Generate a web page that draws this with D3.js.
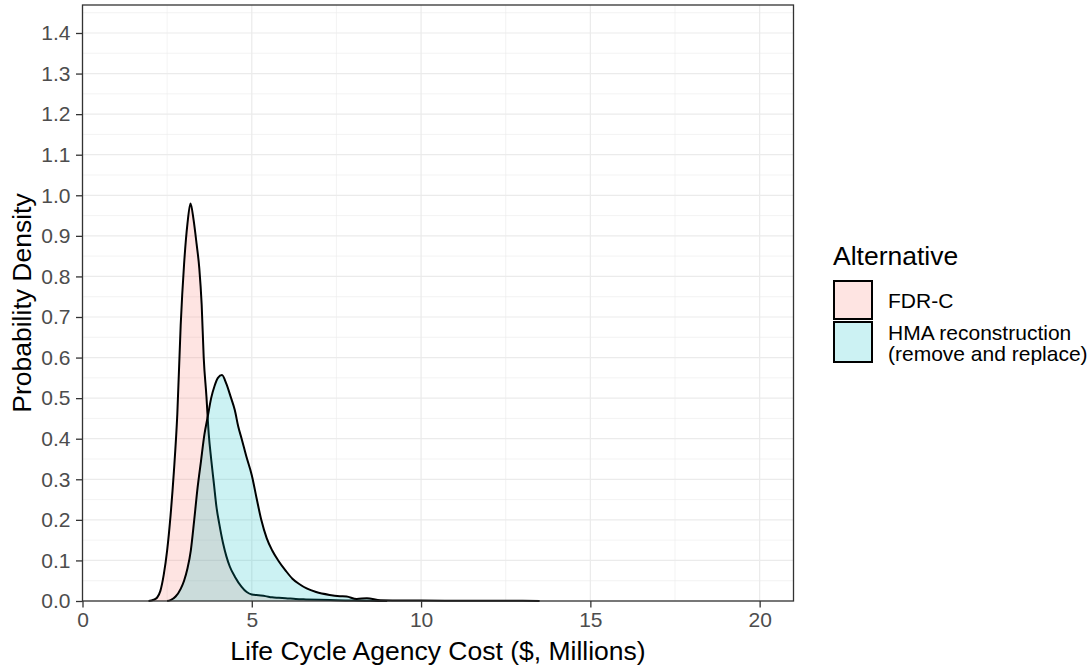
<!DOCTYPE html>
<html>
<head>
  <meta charset="utf-8">
  <script src="https://d3js.org/d3.v7.min.js"></script>
  <style>
    body { margin:0; background:#fff; }
    text { font-family: "Liberation Sans", Arial, sans-serif; }
    .tick text { fill:#4d4d4d; font-size:21px; }
    .tick line { stroke:#333; }
  </style>
</head>
<body>
  <script>
    // density estimates
    var fdrX = [1.95, 2.1, 2.2, 2.3, 2.4, 2.5, 2.6, 2.7, 2.8, 2.9, 3.0, 3.1, 3.19, 3.28, 3.37, 3.45, 3.52, 3.58, 3.66, 3.73, 3.8, 3.88, 3.96, 4.04, 4.15, 4.25, 4.35, 4.5, 4.7, 4.85, 5.0, 5.2, 5.4, 5.6, 5.8, 6.0, 6.3, 6.6, 7.0, 7.5, 8.0, 8.5, 9.0];
    var fdrY = [0, 0.003, 0.008, 0.025, 0.065, 0.125, 0.21, 0.32, 0.46, 0.68, 0.83, 0.93, 0.98, 0.94, 0.88, 0.82, 0.73, 0.6, 0.505, 0.41, 0.35, 0.29, 0.23, 0.19, 0.143, 0.11, 0.085, 0.06, 0.035, 0.022, 0.016, 0.014, 0.012, 0.009, 0.008, 0.007, 0.005, 0.004, 0.003, 0.002, 0.001, 0.0005, 0];

    var hmaX = [2.5, 2.6, 2.75, 2.9, 3.0, 3.1, 3.2, 3.3, 3.4, 3.5, 3.6, 3.7, 3.8, 3.9, 4.0, 4.12, 4.25, 4.37, 4.5, 4.6, 4.7, 4.84, 5.0, 5.15, 5.28, 5.44, 5.6, 5.78, 6.0, 6.2, 6.4, 6.62, 6.9, 7.3, 7.6, 7.8, 8.1, 8.4, 8.8, 9.5, 10, 11, 12, 13, 13.5];
    var hmaY = [0, 0.002, 0.011, 0.03, 0.05, 0.08, 0.125, 0.2, 0.28, 0.345, 0.41, 0.455, 0.5, 0.53, 0.55, 0.557, 0.535, 0.505, 0.47, 0.43, 0.4, 0.356, 0.31, 0.25, 0.2, 0.155, 0.125, 0.1, 0.075, 0.055, 0.042, 0.031, 0.022, 0.015, 0.012, 0.011, 0.005, 0.007, 0.002, 0.001, 0.001, 0.0008, 0.0005, 0.0005, 0];

    var seriesNames = ["FDR-C", "HMA reconstruction (remove and replace)"];
    var legendLines = [["FDR-C"], ["HMA reconstruction", "(remove and replace)"]];
    var seriesColors = ["#F8766D", "#00BFC4"];

    var xTicks = [0, 5, 10, 15, 20];
    var xMinor = [2.5, 7.5, 12.5, 17.5];
    var yTicks = d3.range(0, 15).map(function(i) { return i / 10; });
    var yMinor = d3.range(0, 15).map(function(i) { return i / 10 + 0.05; });

    var margin = {top: 5, left: 82.5},
        width = 711, height = 596;

    var svg = d3.select("body").append("svg")
        .attr("width", 1091)
        .attr("height", 670);

    var g = svg.append("g")
        .attr("transform", "translate(" + margin.left + "," + margin.top + ")");

    var x = d3.scaleLinear().domain([0, 21]).range([0, width]);
    var y = d3.scaleLinear().domain([0, 1.469]).range([height, 0]);

    // grid
    g.selectAll(".ymin").data(yMinor).enter().append("line")
        .attr("x1", 0).attr("x2", width)
        .attr("y1", d => y(d)).attr("y2", d => y(d))
        .attr("stroke", "#ebebeb").attr("stroke-width", 0.6);
    g.selectAll(".xmin").data(xMinor).enter().append("line")
        .attr("y1", 0).attr("y2", height)
        .attr("x1", d => x(d)).attr("x2", d => x(d))
        .attr("stroke", "#ebebeb").attr("stroke-width", 0.6);
    g.selectAll(".ymaj").data(yTicks).enter().append("line")
        .attr("x1", 0).attr("x2", width)
        .attr("y1", d => y(d)).attr("y2", d => y(d))
        .attr("stroke", "#ebebeb").attr("stroke-width", 1.2);
    g.selectAll(".xmaj").data(xTicks).enter().append("line")
        .attr("y1", 0).attr("y2", height)
        .attr("x1", d => x(d)).attr("x2", d => x(d))
        .attr("stroke", "#ebebeb").attr("stroke-width", 1.2);

    // densities
    var series = [d3.zip(fdrX, fdrY), d3.zip(hmaX, hmaY)];

    var area = d3.area()
        .x(d => x(d[0])).y0(y(0)).y1(d => y(d[1]))
        .curve(d3.curveMonotoneX);
    var line = d3.line()
        .x(d => x(d[0])).y(d => y(d[1]))
        .curve(d3.curveMonotoneX);

    series.forEach(function(s, i) {
        g.append("path").datum(s)
            .attr("d", area)
            .attr("fill", seriesColors[i])
            .attr("fill-opacity", 0.2);
        g.append("path").datum(s)
            .attr("d", line)
            .attr("fill", "none")
            .attr("stroke", "#000")
            .attr("stroke-width", 2)
            .attr("stroke-linejoin", "round");
    });

    // panel border
    g.append("rect")
        .attr("width", width).attr("height", height)
        .attr("fill", "none").attr("stroke", "#333").attr("stroke-width", 1.3);

    // axes
    var xAxis = g.append("g")
        .attr("transform", "translate(0," + height + ")")
        .call(d3.axisBottom(x).tickValues(xTicks).tickSize(6.5).tickPadding(5));
    var yAxis = g.append("g")
        .call(d3.axisLeft(y).tickValues(yTicks).tickFormat(d3.format(".1f")).tickSize(6.5).tickPadding(5.5));
    [xAxis, yAxis].forEach(function(a) {
        a.select(".domain").remove();
        a.selectAll(".tick line").attr("stroke-width", 1.3);
    });

    // axis titles
    svg.append("text")
        .attr("x", margin.left + width / 2).attr("y", 660)
        .attr("text-anchor", "middle")
        .style("font-size", "26.5px").attr("fill", "#000")
        .text("Life Cycle Agency Cost ($, Millions)");
    svg.append("text")
        .attr("transform", "translate(31," + (margin.top + height / 2) + ") rotate(-90)")
        .attr("text-anchor", "middle")
        .style("font-size", "26.5px").attr("fill", "#000")
        .text("Probability Density");

    // legend
    var legend = svg.append("g").attr("transform", "translate(833,0)");
    legend.append("text")
        .attr("x", 0).attr("y", 265)
        .style("font-size", "26.5px").attr("fill", "#000")
        .text("Alternative");
    var keyTops = [281, 322], keyHeights = [38, 40];
    seriesNames.forEach(function(name, i) {
        var top = keyTops[i];
        legend.append("rect")
            .attr("x", 1).attr("y", top)
            .attr("width", 38).attr("height", keyHeights[i])
            .attr("fill", "#fff");
        legend.append("rect")
            .attr("x", 1).attr("y", top)
            .attr("width", 38).attr("height", keyHeights[i])
            .attr("fill", seriesColors[i]).attr("fill-opacity", 0.2)
            .attr("stroke", "#000").attr("stroke-width", 2);
        legendLines[i].forEach(function(t, j) {
            legend.append("text")
                .attr("x", 55).attr("y", legendLines[i].length === 1 ? 308 : 340 + j * 21)
                .style("font-size", "21px").attr("fill", "#000")
                .text(t);
        });
    });
  </script>
</body>
</html>
